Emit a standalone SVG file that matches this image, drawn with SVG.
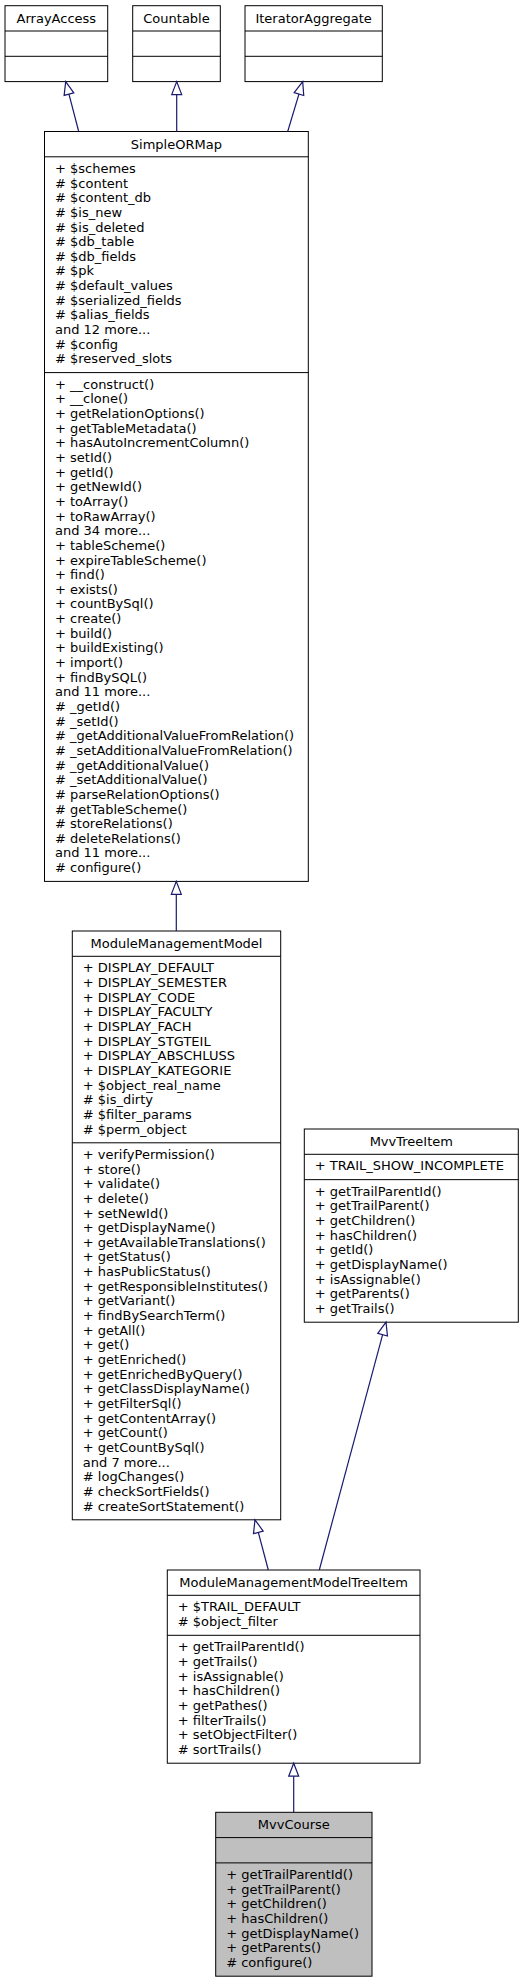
<svg xmlns="http://www.w3.org/2000/svg" width="523" height="1983" viewBox="0 0 523 1983">
<style>
.box{fill:#ffffff;stroke:#000000;stroke-width:1}
.cur{fill:#bfbfbf;stroke:#000000;stroke-width:1}
.div{stroke:#000000;stroke-width:1}
text{font-family:"DejaVu Sans","Liberation Sans",sans-serif;font-size:13px;fill:#000000}
.t{text-anchor:middle}
.e{fill:none;stroke:#191970;stroke-width:1.2}
</style>
<defs>
<marker id="inh" markerUnits="userSpaceOnUse" markerWidth="16" markerHeight="14" refX="13" refY="5" orient="auto" overflow="visible">
<path d="M0,0 L13,5 L0,10 Z" fill="#ffffff" stroke="#191970" stroke-width="1.2"/>
</marker>
</defs>
<rect width="523" height="1983" fill="#ffffff"/>

<g id="ArrayAccess">
<rect class="box" x="5" y="5.7" width="102.7" height="75.9"/>
<line class="div" x1="5" y1="31" x2="107.7" y2="31"/>
<line class="div" x1="5" y1="56.3" x2="107.7" y2="56.3"/>
<text class="t" x="56.35" y="22.7">ArrayAccess</text>
</g>

<g id="Countable">
<rect class="box" x="132.7" y="5.7" width="87.6" height="75.9"/>
<line class="div" x1="132.7" y1="31" x2="220.3" y2="31"/>
<line class="div" x1="132.7" y1="56.3" x2="220.3" y2="56.3"/>
<text class="t" x="176.5" y="22.7">Countable</text>
</g>

<g id="IteratorAggregate">
<rect class="box" x="245" y="5.7" width="137.3" height="75.9"/>
<line class="div" x1="245" y1="31" x2="382.3" y2="31"/>
<line class="div" x1="245" y1="56.3" x2="382.3" y2="56.3"/>
<text class="t" x="313.65" y="22.7">IteratorAggregate</text>
</g>

<g id="SimpleORMap">
<rect class="box" x="44.5" y="131.5" width="263.8" height="749.9"/>
<line class="div" x1="44.5" y1="156.8" x2="308.3" y2="156.8"/>
<line class="div" x1="44.5" y1="372.6" x2="308.3" y2="372.6"/>
<text class="t" x="176.4" y="148.5">SimpleORMap</text>
<text x="55" y="172.9">
<tspan x="55">+ $schemes</tspan>
<tspan x="55" dy="14.65"># $content</tspan>
<tspan x="55" dy="14.65"># $content_db</tspan>
<tspan x="55" dy="14.65"># $is_new</tspan>
<tspan x="55" dy="14.65"># $is_deleted</tspan>
<tspan x="55" dy="14.65"># $db_table</tspan>
<tspan x="55" dy="14.65"># $db_fields</tspan>
<tspan x="55" dy="14.65"># $pk</tspan>
<tspan x="55" dy="14.65"># $default_values</tspan>
<tspan x="55" dy="14.65"># $serialized_fields</tspan>
<tspan x="55" dy="14.65"># $alias_fields</tspan>
<tspan x="55" dy="14.65">and 12 more...</tspan>
<tspan x="55" dy="14.65"># $config</tspan>
<tspan x="55" dy="14.65"># $reserved_slots</tspan>
</text>
<text x="55" y="388.7">
<tspan x="55">+ __construct()</tspan>
<tspan x="55" dy="14.65">+ __clone()</tspan>
<tspan x="55" dy="14.65">+ getRelationOptions()</tspan>
<tspan x="55" dy="14.65">+ getTableMetadata()</tspan>
<tspan x="55" dy="14.65">+ hasAutoIncrementColumn()</tspan>
<tspan x="55" dy="14.65">+ setId()</tspan>
<tspan x="55" dy="14.65">+ getId()</tspan>
<tspan x="55" dy="14.65">+ getNewId()</tspan>
<tspan x="55" dy="14.65">+ toArray()</tspan>
<tspan x="55" dy="14.65">+ toRawArray()</tspan>
<tspan x="55" dy="14.65">and 34 more...</tspan>
<tspan x="55" dy="14.65">+ tableScheme()</tspan>
<tspan x="55" dy="14.65">+ expireTableScheme()</tspan>
<tspan x="55" dy="14.65">+ find()</tspan>
<tspan x="55" dy="14.65">+ exists()</tspan>
<tspan x="55" dy="14.65">+ countBySql()</tspan>
<tspan x="55" dy="14.65">+ create()</tspan>
<tspan x="55" dy="14.65">+ build()</tspan>
<tspan x="55" dy="14.65">+ buildExisting()</tspan>
<tspan x="55" dy="14.65">+ import()</tspan>
<tspan x="55" dy="14.65">+ findBySQL()</tspan>
<tspan x="55" dy="14.65">and 11 more...</tspan>
<tspan x="55" dy="14.65"># _getId()</tspan>
<tspan x="55" dy="14.65"># _setId()</tspan>
<tspan x="55" dy="14.65"># _getAdditionalValueFromRelation()</tspan>
<tspan x="55" dy="14.65"># _setAdditionalValueFromRelation()</tspan>
<tspan x="55" dy="14.65"># _getAdditionalValue()</tspan>
<tspan x="55" dy="14.65"># _setAdditionalValue()</tspan>
<tspan x="55" dy="14.65"># parseRelationOptions()</tspan>
<tspan x="55" dy="14.65"># getTableScheme()</tspan>
<tspan x="55" dy="14.65"># storeRelations()</tspan>
<tspan x="55" dy="14.65"># deleteRelations()</tspan>
<tspan x="55" dy="14.65">and 11 more...</tspan>
<tspan x="55" dy="14.65"># configure()</tspan>
</text>
</g>

<g id="ModuleManagementModel">
<rect class="box" x="72.3" y="931" width="208.4" height="588.8"/>
<line class="div" x1="72.3" y1="956.3" x2="280.7" y2="956.3"/>
<line class="div" x1="72.3" y1="1142.8" x2="280.7" y2="1142.8"/>
<text class="t" x="176.5" y="948">ModuleManagementModel</text>
<text x="82.8" y="972.4">
<tspan x="82.8">+ DISPLAY_DEFAULT</tspan>
<tspan x="82.8" dy="14.65">+ DISPLAY_SEMESTER</tspan>
<tspan x="82.8" dy="14.65">+ DISPLAY_CODE</tspan>
<tspan x="82.8" dy="14.65">+ DISPLAY_FACULTY</tspan>
<tspan x="82.8" dy="14.65">+ DISPLAY_FACH</tspan>
<tspan x="82.8" dy="14.65">+ DISPLAY_STGTEIL</tspan>
<tspan x="82.8" dy="14.65">+ DISPLAY_ABSCHLUSS</tspan>
<tspan x="82.8" dy="14.65">+ DISPLAY_KATEGORIE</tspan>
<tspan x="82.8" dy="14.65">+ $object_real_name</tspan>
<tspan x="82.8" dy="14.65"># $is_dirty</tspan>
<tspan x="82.8" dy="14.65"># $filter_params</tspan>
<tspan x="82.8" dy="14.65"># $perm_object</tspan>
</text>
<text x="82.8" y="1158.9">
<tspan x="82.8">+ verifyPermission()</tspan>
<tspan x="82.8" dy="14.65">+ store()</tspan>
<tspan x="82.8" dy="14.65">+ validate()</tspan>
<tspan x="82.8" dy="14.65">+ delete()</tspan>
<tspan x="82.8" dy="14.65">+ setNewId()</tspan>
<tspan x="82.8" dy="14.65">+ getDisplayName()</tspan>
<tspan x="82.8" dy="14.65">+ getAvailableTranslations()</tspan>
<tspan x="82.8" dy="14.65">+ getStatus()</tspan>
<tspan x="82.8" dy="14.65">+ hasPublicStatus()</tspan>
<tspan x="82.8" dy="14.65">+ getResponsibleInstitutes()</tspan>
<tspan x="82.8" dy="14.65">+ getVariant()</tspan>
<tspan x="82.8" dy="14.65">+ findBySearchTerm()</tspan>
<tspan x="82.8" dy="14.65">+ getAll()</tspan>
<tspan x="82.8" dy="14.65">+ get()</tspan>
<tspan x="82.8" dy="14.65">+ getEnriched()</tspan>
<tspan x="82.8" dy="14.65">+ getEnrichedByQuery()</tspan>
<tspan x="82.8" dy="14.65">+ getClassDisplayName()</tspan>
<tspan x="82.8" dy="14.65">+ getFilterSql()</tspan>
<tspan x="82.8" dy="14.65">+ getContentArray()</tspan>
<tspan x="82.8" dy="14.65">+ getCount()</tspan>
<tspan x="82.8" dy="14.65">+ getCountBySql()</tspan>
<tspan x="82.8" dy="14.65">and 7 more...</tspan>
<tspan x="82.8" dy="14.65"># logChanges()</tspan>
<tspan x="82.8" dy="14.65"># checkSortFields()</tspan>
<tspan x="82.8" dy="14.65"># createSortStatement()</tspan>
</text>
</g>

<g id="MvvTreeItem">
<rect class="box" x="304.3" y="1129" width="214" height="193.2"/>
<line class="div" x1="304.3" y1="1154.3" x2="518.3" y2="1154.3"/>
<line class="div" x1="304.3" y1="1179.65" x2="518.3" y2="1179.65"/>
<text class="t" x="411.3" y="1146">MvvTreeItem</text>
<text x="314.8" y="1170.4">+ TRAIL_SHOW_INCOMPLETE</text>
<text x="314.8" y="1195.75">
<tspan x="314.8">+ getTrailParentId()</tspan>
<tspan x="314.8" dy="14.65">+ getTrailParent()</tspan>
<tspan x="314.8" dy="14.65">+ getChildren()</tspan>
<tspan x="314.8" dy="14.65">+ hasChildren()</tspan>
<tspan x="314.8" dy="14.65">+ getId()</tspan>
<tspan x="314.8" dy="14.65">+ getDisplayName()</tspan>
<tspan x="314.8" dy="14.65">+ isAssignable()</tspan>
<tspan x="314.8" dy="14.65">+ getParents()</tspan>
<tspan x="314.8" dy="14.65">+ getTrails()</tspan>
</text>
</g>

<g id="ModuleManagementModelTreeItem">
<rect class="box" x="167.3" y="1570" width="252.7" height="193.2"/>
<line class="div" x1="167.3" y1="1595.3" x2="420" y2="1595.3"/>
<line class="div" x1="167.3" y1="1635.3" x2="420" y2="1635.3"/>
<text class="t" x="293.65" y="1587">ModuleManagementModelTreeItem</text>
<text x="177.8" y="1611.4">
<tspan x="177.8">+ $TRAIL_DEFAULT</tspan>
<tspan x="177.8" dy="14.65"># $object_filter</tspan>
</text>
<text x="177.8" y="1651.4">
<tspan x="177.8">+ getTrailParentId()</tspan>
<tspan x="177.8" dy="14.65">+ getTrails()</tspan>
<tspan x="177.8" dy="14.65">+ isAssignable()</tspan>
<tspan x="177.8" dy="14.65">+ hasChildren()</tspan>
<tspan x="177.8" dy="14.65">+ getPathes()</tspan>
<tspan x="177.8" dy="14.65">+ filterTrails()</tspan>
<tspan x="177.8" dy="14.65">+ setObjectFilter()</tspan>
<tspan x="177.8" dy="14.65"># sortTrails()</tspan>
</text>
</g>

<g id="MvvCourse">
<rect class="cur" x="215.7" y="1812.3" width="156.3" height="163.9"/>
<line class="div" x1="215.7" y1="1837.6" x2="372" y2="1837.6"/>
<line class="div" x1="215.7" y1="1862.9" x2="372" y2="1862.9"/>
<text class="t" x="293.85" y="1829.3">MvvCourse</text>
<text x="226.2" y="1879">
<tspan x="226.2">+ getTrailParentId()</tspan>
<tspan x="226.2" dy="14.65">+ getTrailParent()</tspan>
<tspan x="226.2" dy="14.65">+ getChildren()</tspan>
<tspan x="226.2" dy="14.65">+ hasChildren()</tspan>
<tspan x="226.2" dy="14.65">+ getDisplayName()</tspan>
<tspan x="226.2" dy="14.65">+ getParents()</tspan>
<tspan x="226.2" dy="14.65"># configure()</tspan>
</text>
</g>

<g id="connectors">
<path class="e" d="M78.7,131.5 L65.7,81.6" marker-end="url(#inh)"/>
<path class="e" d="M176.7,131.5 L176.7,81.6" marker-end="url(#inh)"/>
<path class="e" d="M287.7,131.5 L302.7,81.6" marker-end="url(#inh)"/>
<path class="e" d="M176.3,931 L176.3,881.4" marker-end="url(#inh)"/>
<path class="e" d="M268.3,1570 L255,1519.8" marker-end="url(#inh)"/>
<path class="e" d="M319.3,1570 L386,1322.2" marker-end="url(#inh)"/>
<path class="e" d="M293.7,1812.3 L293.7,1763.2" marker-end="url(#inh)"/>
</g>
</svg>
